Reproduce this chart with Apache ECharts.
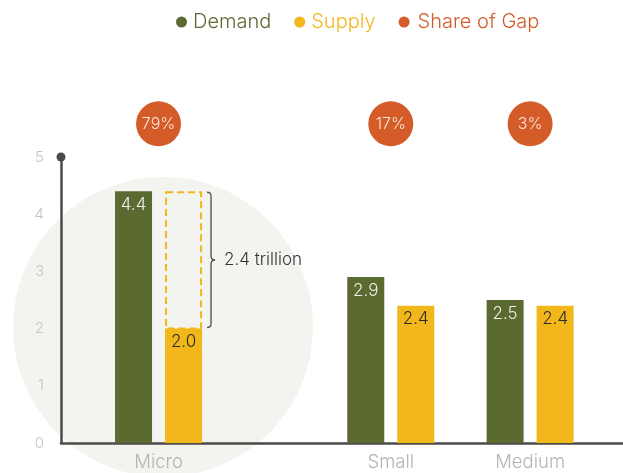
<!DOCTYPE html>
<html>
<head>
<meta charset="utf-8">
<script src="https://cdn.jsdelivr.net/npm/echarts@6/dist/echarts.min.js"></script>
<style>
  html, body { margin: 0; padding: 0; background: #ffffff; }
  #chart { width: 623px; height: 473px; }
</style>
</head>
<body>
<div id="chart"></div>
<script>
// Financing demand vs. supply by firm size (USD trillion)
const categories = ['Micro', 'Small', 'Medium'];
const categoryPos = [1, 6, 9];          // where each size class sits on the x axis
const demand = [4.4, 2.9, 2.5];
const supply = [2.0, 2.4, 2.4];
const gapShare = [79, 17, 3];           // share of the total gap, %
const annotated = ['Micro'];            // size classes with the gap drawn out
const yTicks = [0, 1, 2, 3, 4, 5];

const GREEN = '#5a6a30';
const YELLOW = '#f2b71b';
const ORANGE = '#d45c29';
const AXIS = '#4d4a4a';
const FONT = 'Inter, "Noto Sans", sans-serif';

const BAR_W = 37;
const BAR_GAP = 13;
const BUBBLE_Y = 5.58;                  // height of the share bubbles above the plot

const chart = echarts.init(document.getElementById('chart'), null, { renderer: 'canvas' });

const option = {
  animation: false,
  textStyle: { fontFamily: FONT },
  legend: {
    top: 7,
    left: 171,
    icon: 'circle',
    itemWidth: 11,
    itemHeight: 11,
    itemGap: 23,
    textStyle: { fontSize: 20, fontFamily: FONT, fontWeight: 300, padding: [0, 0, 0, 1] },
    data: [
      { name: 'Demand', textStyle: { color: GREEN } },
      { name: 'Supply', textStyle: { color: YELLOW, padding: [0, 5, 0, 1] } },
      { name: 'Share of Gap', textStyle: { color: ORANGE, padding: [0, 0, 0, 3] } }
    ]
  },
  grid: { left: 61, right: 0, top: 157, bottom: 30, containLabel: false },
  xAxis: {
    type: 'value',
    min: -1.1,
    max: 11,
    splitLine: { show: false },
    axisTick: { show: false },
    axisLine: { show: true, onZero: false, lineStyle: { color: AXIS, width: 2.5 } },
    axisLabel: {
      customValues: categoryPos,
      formatter: v => categories[categoryPos.indexOf(v)] || '',
      color: '#b4b4b4',
      fontSize: 18.5,
      fontWeight: 300,
      margin: 10,
      fontFamily: FONT
    }
  },
  yAxis: {
    type: 'value',
    min: yTicks[0],
    max: yTicks[yTicks.length - 1],
    interval: 1,
    splitLine: { show: false },
    axisTick: { show: false },
    axisLine: {
      show: true,
      onZero: false,
      lineStyle: { color: AXIS, width: 2.5 },
      symbol: ['none', 'circle'],
      symbolSize: [9, 9]
    },
    axisLabel: { color: '#c4c4c4', fontSize: 15, fontWeight: 300, margin: 17, fontFamily: FONT }
  },
  series: [
    {
      name: 'Demand',
      type: 'bar',
      barWidth: BAR_W,
      barGap: (BAR_GAP / BAR_W * 100) + '%',
      itemStyle: { color: GREEN },
      label: {
        show: true, position: 'insideTop', distance: 5,
        color: '#eef0e4', fontSize: 17, fontWeight: 300, fontFamily: FONT,
        formatter: p => p.value[1].toFixed(1)
      },
      data: categoryPos.map((x, i) => [x, demand[i]])
    },
    {
      name: 'Supply',
      type: 'bar',
      barWidth: BAR_W,
      barGap: (BAR_GAP / BAR_W * 100) + '%',
      itemStyle: { color: YELLOW },
      label: {
        show: true, position: 'insideTop', distance: 5,
        color: '#2b2b2b', fontSize: 17, fontWeight: 300, fontFamily: FONT,
        formatter: p => p.value[1].toFixed(1)
      },
      data: categoryPos.map((x, i) => [x, supply[i]])
    },
    {
      name: 'Share of Gap',
      type: 'scatter',
      clip: false,
      symbol: 'circle',
      symbolSize: 45,
      itemStyle: { color: ORANGE, opacity: 1 },
      label: {
        show: true, position: 'inside',
        color: '#fce6dc', fontSize: 16, fontWeight: 300, fontFamily: FONT,
        formatter: p => p.value[2] + '%'
      },
      data: categoryPos.map((x, i) => [x, BUBBLE_Y, gapShare[i]])
    },
    {
      // dashed outline of the unmet demand, with a brace and its size
      name: 'Gap',
      type: 'custom',
      clip: false,
      z: 5,
      renderItem: (params, api) => {
        const low = api.value(1), high = api.value(2);
        if (low == null || isNaN(low)) return null;
        const top = api.coord([api.value(0), high]);
        const bot = api.coord([api.value(0), low]);
        const cx = top[0];
        const left = cx + BAR_GAP / 2, right = left + BAR_W;
        const x = right + 9;
        const t = top[1] + 1, b = bot[1] - 1, m = (t + b) / 2;
        const c = 4;
        const st = { stroke: '#555', lineWidth: 1.4, fill: null };
        return {
          type: 'group',
          children: [
            {
              type: 'rect',
              shape: { x: left + 1, y: top[1] + 1, width: BAR_W - 2, height: bot[1] - top[1] - 1 },
              style: { fill: null, stroke: YELLOW, lineWidth: 2, lineDash: [7, 4] }
            },
            { type: 'bezierCurve', shape: { x1: x - c, y1: t, cpx1: x, cpy1: t, x2: x, y2: t + c }, style: st },
            { type: 'line', shape: { x1: x, y1: t + c, x2: x, y2: m - c }, style: st },
            { type: 'bezierCurve', shape: { x1: x, y1: m - c, cpx1: x, cpy1: m, x2: x + c, y2: m }, style: st },
            { type: 'bezierCurve', shape: { x1: x + c, y1: m, cpx1: x, cpy1: m, x2: x, y2: m + c }, style: st },
            { type: 'line', shape: { x1: x, y1: m + c, x2: x, y2: b - c }, style: st },
            { type: 'bezierCurve', shape: { x1: x, y1: b - c, cpx1: x, cpy1: b, x2: x - c, y2: b }, style: st },
            {
              type: 'text',
              style: {
                x: x + 13, y: m, text: (high - low).toFixed(1) + ' trillion',
                fill: '#333', fontSize: 17, fontWeight: 300, fontFamily: FONT,
                verticalAlign: 'middle', align: 'left'
              }
            }
          ]
        };
      },
      data: categories.map((c, i) =>
        annotated.includes(c) ? [categoryPos[i], supply[i], demand[i]] : [categoryPos[i], null, null])
    }
  ]
};

chart.setOption(option);

// soft backdrop circle behind the Micro group
const centre = chart.convertToPixel({ xAxisIndex: 0, yAxisIndex: 0 }, [categoryPos[0], 2.03]);
chart.setOption({
  graphic: [{
    type: 'circle',
    z: -10,
    silent: true,
    shape: { cx: centre[0] + 4.5, cy: centre[1], r: 150 },
    style: { fill: '#f3f3ef' }
  }]
});
</script>
</body>
</html>
